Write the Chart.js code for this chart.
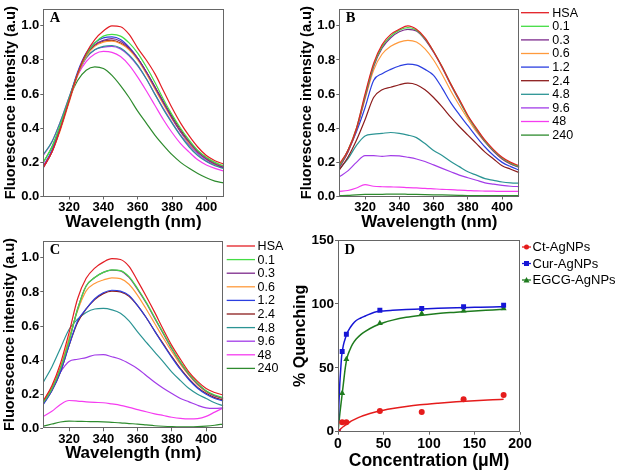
<!DOCTYPE html>
<html>
<head>
<meta charset="utf-8">
<script src="https://cdn.jsdelivr.net/npm/chart.js@4.4.0/dist/chart.umd.min.js"></script>
<style>
  body { margin: 0; background: #fff; width: 625px; height: 471px; overflow: hidden; }
  .panel { position: absolute; }
</style>
</head>
<body>
<div class="panel" style="left:0;top:0"><canvas id="chartA" width="232" height="233"></canvas></div>
<div class="panel" style="left:295px;top:0"><canvas id="chartB" width="330" height="233"></canvas></div>
<div class="panel" style="left:0;top:232px"><canvas id="chartC" width="300" height="239"></canvas></div>
<div class="panel" style="left:288px;top:230px"><canvas id="chartD" width="337" height="242"></canvas></div>
<script>
// wavelength axis shared by the three spectra panels
const wavelengths = [305, 310, 315, 320, 325, 330, 335, 340, 345, 350, 355, 360, 365, 370, 375, 380, 385, 390, 395, 400, 405, 410];
const concLabels = ["HSA", "0.1", "0.3", "0.6", "1.2", "2.4", "4.8", "9.6", "48", "240"];
const concColors = ["#e31e24", "#44dd44", "#7d2a8c", "#ff9a3c", "#2b3fe0", "#8c1c1c", "#2b9494", "#a23ce8", "#f53cf0", "#2e8b2e"];
const wlTicks = [320, 340, 360, 380, 400];
const fiTicks = [0, 0.2, 0.4, 0.6, 0.8, 1.0];

// panel A
const A_hsa = [0.17, 0.26, 0.40, 0.56, 0.72, 0.84, 0.92, 0.97, 1.0, 0.995, 0.95, 0.87, 0.80, 0.72, 0.62, 0.52, 0.43, 0.355, 0.29, 0.24, 0.21, 0.19];
const A_01 = [0.20, 0.29, 0.42, 0.57, 0.72, 0.83, 0.90, 0.94, 0.95, 0.94, 0.90, 0.84, 0.76, 0.67, 0.57, 0.48, 0.40, 0.33, 0.27, 0.23, 0.20, 0.18];
const A_03 = [0.17, 0.26, 0.40, 0.56, 0.72, 0.83, 0.89, 0.915, 0.925, 0.91, 0.87, 0.81, 0.73, 0.64, 0.55, 0.46, 0.38, 0.32, 0.26, 0.22, 0.19, 0.17];
const A_06 = [0.17, 0.26, 0.39, 0.55, 0.71, 0.82, 0.88, 0.905, 0.91, 0.895, 0.86, 0.80, 0.72, 0.63, 0.54, 0.455, 0.38, 0.31, 0.26, 0.22, 0.19, 0.175];
const A_12 = [0.17, 0.27, 0.41, 0.57, 0.73, 0.84, 0.90, 0.93, 0.935, 0.92, 0.875, 0.81, 0.73, 0.64, 0.55, 0.46, 0.38, 0.31, 0.26, 0.22, 0.19, 0.17];
const A_24 = [0.17, 0.26, 0.40, 0.56, 0.72, 0.83, 0.885, 0.91, 0.915, 0.90, 0.865, 0.81, 0.73, 0.645, 0.555, 0.47, 0.39, 0.32, 0.265, 0.225, 0.195, 0.175];
const A_48 = [0.245, 0.32, 0.44, 0.58, 0.72, 0.815, 0.86, 0.88, 0.885, 0.87, 0.83, 0.77, 0.69, 0.60, 0.51, 0.43, 0.355, 0.29, 0.24, 0.205, 0.18, 0.165];
const A_96 = [0.18, 0.27, 0.40, 0.56, 0.71, 0.81, 0.86, 0.875, 0.88, 0.865, 0.825, 0.765, 0.69, 0.60, 0.515, 0.435, 0.36, 0.30, 0.25, 0.21, 0.185, 0.17];
const A_480 = [0.24, 0.32, 0.44, 0.58, 0.71, 0.79, 0.835, 0.85, 0.845, 0.82, 0.77, 0.70, 0.62, 0.535, 0.45, 0.375, 0.31, 0.26, 0.215, 0.185, 0.165, 0.15];
const A_2400 = [0.20, 0.29, 0.42, 0.57, 0.68, 0.74, 0.76, 0.75, 0.71, 0.65, 0.58, 0.50, 0.43, 0.36, 0.30, 0.245, 0.20, 0.165, 0.135, 0.11, 0.09, 0.08];

// panel B
const B_hsa = [0.19, 0.27, 0.40, 0.60, 0.78, 0.89, 0.95, 0.98, 1.0, 0.98, 0.93, 0.85, 0.76, 0.66, 0.57, 0.475, 0.40, 0.33, 0.275, 0.23, 0.20, 0.18];
const B_01 = [0.18, 0.27, 0.40, 0.59, 0.77, 0.88, 0.94, 0.975, 0.99, 0.975, 0.925, 0.85, 0.76, 0.66, 0.565, 0.47, 0.395, 0.325, 0.27, 0.225, 0.195, 0.175];
const B_03 = [0.17, 0.26, 0.39, 0.58, 0.76, 0.87, 0.93, 0.965, 0.98, 0.97, 0.92, 0.845, 0.755, 0.655, 0.56, 0.47, 0.39, 0.32, 0.265, 0.22, 0.19, 0.17];
const B_06 = [0.17, 0.26, 0.39, 0.57, 0.74, 0.835, 0.88, 0.905, 0.915, 0.905, 0.865, 0.80, 0.715, 0.62, 0.535, 0.455, 0.38, 0.32, 0.265, 0.22, 0.19, 0.175];
const B_12 = [0.17, 0.27, 0.38, 0.52, 0.68, 0.72, 0.745, 0.765, 0.776, 0.77, 0.745, 0.71, 0.635, 0.55, 0.48, 0.415, 0.35, 0.29, 0.24, 0.20, 0.175, 0.155];
const B_24 = [0.155, 0.23, 0.33, 0.45, 0.58, 0.625, 0.64, 0.655, 0.664, 0.655, 0.625, 0.58, 0.525, 0.465, 0.41, 0.36, 0.31, 0.26, 0.22, 0.18, 0.16, 0.14];
const B_48 = [0.16, 0.22, 0.30, 0.355, 0.365, 0.37, 0.375, 0.37, 0.36, 0.345, 0.31, 0.27, 0.24, 0.205, 0.175, 0.145, 0.125, 0.105, 0.095, 0.085, 0.08, 0.078];
const B_96 = [0.115, 0.15, 0.20, 0.24, 0.24, 0.235, 0.24, 0.238, 0.23, 0.22, 0.205, 0.185, 0.165, 0.145, 0.125, 0.11, 0.095, 0.08, 0.072, 0.065, 0.06, 0.058];
const B_480 = [0.03, 0.035, 0.05, 0.07, 0.06, 0.057, 0.056, 0.055, 0.052, 0.05, 0.048, 0.045, 0.042, 0.04, 0.037, 0.035, 0.033, 0.032, 0.031, 0.03, 0.03, 0.03];
const B_2400 = [0.005, 0.007, 0.01, 0.012, 0.013, 0.013, 0.014, 0.014, 0.013, 0.012, 0.011, 0.01, 0.009, 0.008, 0.007, 0.006, 0.006, 0.005, 0.005, 0.005, 0.005, 0.005];

// panel C
const C_hsa = [0.16, 0.25, 0.38, 0.56, 0.76, 0.88, 0.94, 0.975, 0.995, 0.99, 0.95, 0.865, 0.775, 0.68, 0.58, 0.485, 0.405, 0.33, 0.275, 0.233, 0.21, 0.195];
const C_01 = [0.15, 0.23, 0.35, 0.51, 0.70, 0.835, 0.885, 0.915, 0.93, 0.925, 0.89, 0.82, 0.74, 0.65, 0.56, 0.47, 0.39, 0.32, 0.265, 0.22, 0.195, 0.18];
const C_03 = [0.15, 0.23, 0.35, 0.51, 0.70, 0.835, 0.885, 0.915, 0.928, 0.924, 0.885, 0.815, 0.735, 0.645, 0.555, 0.465, 0.385, 0.315, 0.26, 0.218, 0.19, 0.175];
const C_06 = [0.16, 0.24, 0.36, 0.53, 0.69, 0.806, 0.85, 0.87, 0.883, 0.878, 0.845, 0.78, 0.70, 0.615, 0.53, 0.45, 0.375, 0.31, 0.255, 0.215, 0.19, 0.175];
const C_12 = [0.14, 0.22, 0.33, 0.485, 0.63, 0.70, 0.76, 0.795, 0.81, 0.805, 0.78, 0.72, 0.65, 0.57, 0.49, 0.415, 0.345, 0.285, 0.235, 0.20, 0.175, 0.16];
const C_24 = [0.145, 0.22, 0.33, 0.485, 0.62, 0.70, 0.755, 0.79, 0.805, 0.80, 0.775, 0.72, 0.65, 0.57, 0.495, 0.42, 0.35, 0.29, 0.24, 0.205, 0.18, 0.165];
const C_48 = [0.27, 0.36, 0.47, 0.58, 0.64, 0.68, 0.70, 0.703, 0.695, 0.675, 0.63, 0.565, 0.505, 0.447, 0.39, 0.33, 0.28, 0.233, 0.20, 0.175, 0.15, 0.132];
const C_96 = [0.155, 0.24, 0.33, 0.392, 0.405, 0.415, 0.43, 0.432, 0.42, 0.405, 0.38, 0.35, 0.31, 0.27, 0.235, 0.204, 0.175, 0.155, 0.135, 0.12, 0.117, 0.12];
const C_480 = [0.07, 0.10, 0.14, 0.163, 0.16, 0.155, 0.152, 0.15, 0.143, 0.135, 0.123, 0.11, 0.097, 0.085, 0.075, 0.065, 0.058, 0.055, 0.057, 0.07, 0.095, 0.12];
const C_2400 = [0.013, 0.025, 0.037, 0.042, 0.041, 0.04, 0.039, 0.038, 0.035, 0.032, 0.028, 0.025, 0.02, 0.015, 0.012, 0.01, 0.009, 0.009, 0.01, 0.013, 0.018, 0.025];

// panel D: measured points and fitted curves
const concX = [0, 4.6, 9.2, 46, 92, 138, 182];
const ctPoints = [0, 7.4, 7.4, 16.2, 15.4, 25.4, 28.7];
const curPoints = [0, 62.7, 76.3, 95.1, 96.4, 97.7, 99];
const egcgPoints = [0, 30, 56.7, 84.9, 92.5, 94.6, 96.4];
const fitX = [0, 1, 2, 3, 4, 6, 8, 10, 13, 16, 20, 25, 30, 40, 50, 60, 75, 90, 110, 130, 150, 170, 182];
const ctFit = [0, 0.8, 1.5, 2.2, 2.9, 4.1, 5.2, 6.2, 7.6, 8.8, 10.2, 11.8, 13.1, 15.2, 16.8, 18.1, 19.7, 21, 22.3, 23.4, 24.3, 25, 25.4];
const curFit = [0, 22, 38, 49, 59, 68, 73, 77, 81, 84, 87, 89, 90.5, 93.5, 94.5, 95, 95.6, 96, 96.6, 97, 97.3, 97.6, 97.8];
const egcgFit = [0, 7, 14, 20, 26, 38, 50, 58, 64, 68.5, 72.5, 76, 78.5, 82.5, 85.3, 87.3, 89.5, 91, 92.5, 93.5, 94.5, 95.3, 95.8];
const dLabels = ["Ct-AgNPs", "Cur-AgNPs", "EGCG-AgNPs"];
const dColors = ["#e51c1c", "#1616d6", "#1e7b1e"];
const dStyles = ["circle", "rect", "triangle"];
const concTicks = [0, 50, 100, 150, 200];
const quenchTicks = [0, 50, 100, 150];

const SANS = '"Liberation Sans", Arial, sans-serif';

// box around the plot, panel letter and the side legend
const framePlugin = {
  id: 'frame',
  afterDraw(chart, args, o) {
    const { ctx, chartArea: a } = chart;
    ctx.save();
    ctx.strokeStyle = '#666';
    ctx.lineWidth = 1;
    const l = Math.round(a.left) + 0.5, t = Math.round(a.top) + 0.5;
    const r = Math.round(a.right) - 0.5, b = Math.round(a.bottom) - 0.5;
    ctx.strokeRect(l, t, r - l, b - t);

    ctx.fillStyle = '#000';
    ctx.font = 'bold 14.5px "Liberation Serif", serif';
    ctx.textBaseline = 'alphabetic';
    ctx.fillText(o.letter, a.left + 6.5, a.top + 13.5);

    const lg = o.legend;
    if (lg) {
      const items = chart.data.datasets.filter(d => d.label && d.inLegend);
      ctx.font = lg.font;
      ctx.textBaseline = 'middle';
      items.forEach((d, i) => {
        const y = lg.y + i * lg.step;
        ctx.strokeStyle = d.borderColor;
        ctx.fillStyle = d.borderColor;
        ctx.lineWidth = 1.3;
        ctx.beginPath();
        ctx.moveTo(lg.x, y);
        ctx.lineTo(lg.x + lg.len, y);
        ctx.stroke();
        if (d.pointStyle && lg.marker) {
          const cx = lg.x + lg.len / 2;
          ctx.beginPath();
          if (d.pointStyle === 'circle') ctx.arc(cx, y, 2.5, 0, Math.PI * 2);
          else if (d.pointStyle === 'rect') ctx.rect(cx - 2.5, y - 2.5, 5, 5);
          else { ctx.moveTo(cx, y - 3); ctx.lineTo(cx + 3, y + 2.5); ctx.lineTo(cx - 3, y + 2.5); ctx.closePath(); }
          ctx.fill();
        }
        ctx.fillStyle = '#000';
        ctx.fillText(d.label, lg.x + lg.len + lg.gap, y + 0.5);
      });
    }
    ctx.restore();
  }
};

function fixedTicks(values) {
  return scale => { scale.ticks = values.map(v => ({ value: v })); };
}

function axis(opts) {
  return {
    type: 'linear',
    min: opts.min,
    max: opts.max,
    afterBuildTicks: fixedTicks(opts.ticks),
    afterFit: opts.size[0] === 'w' ? (s => { s.width = opts.size[1]; }) : (s => { s.height = opts.size[1]; }),
    grid: { display: true, drawOnChartArea: false, drawTicks: true, tickLength: 3, color: '#666' },
    border: { display: false },
    ticks: {
      padding: opts.pad,
      color: '#000',
      font: { family: SANS, size: opts.tickSize, weight: 'bold' },
      callback: opts.fmt
    },
    title: {
      display: true,
      text: opts.title,
      color: '#000',
      padding: opts.titlePad,
      font: { family: SANS, size: opts.titleSize, weight: 'bold' }
    }
  };
}

function spectrumSets(series) {
  return series.map((arr, i) => ({
    label: concLabels[i],
    inLegend: true,
    data: wavelengths.map((w, k) => ({ x: w, y: arr[k] })),
    borderColor: concColors[i],
    borderWidth: 1.2,
    pointRadius: 0,
    tension: 0.4,
    cubicInterpolationMode: 'monotone',
    fill: false
  }));
}

function spectrumChart(id, letter, series, lay, legend) {
  return new Chart(document.getElementById(id), {
    type: 'line',
    data: { datasets: spectrumSets(series) },
    options: {
      responsive: false,
      animation: false,
      layout: { padding: lay.padding },
      plugins: { legend: { display: false }, tooltip: { enabled: false }, frame: { letter, legend } },
      scales: {
        x: axis({ min: 305, max: 410, ticks: wlTicks, size: ['h', lay.xh], pad: 0, tickSize: 13,
          fmt: v => v, title: 'Wavelength (nm)', titleSize: 17, titlePad: { top: 0, bottom: lay.xtp } }),
        y: axis({ min: 0, max: 1.1, ticks: fiTicks, size: ['w', lay.yw], pad: 1, tickSize: 13,
          fmt: v => v.toFixed(1), title: 'Fluorescence intensity (a.u)', titleSize: 14.6, titlePad: { top: lay.ytp, bottom: 0 } })
      }
    },
    plugins: [framePlugin]
  });
}

spectrumChart('chartA', 'A',
  [A_hsa, A_01, A_03, A_06, A_12, A_24, A_48, A_96, A_480, A_2400],
  { padding: { left: 0, top: 7.5, right: 8.5, bottom: 0 }, xh: 36.5, yw: 43.3, xtp: 0.5, ytp: 2 },
  null);

spectrumChart('chartB', 'B',
  [B_hsa, B_01, B_03, B_06, B_12, B_24, B_48, B_96, B_480, B_2400],
  { padding: { left: 0, top: 7.5, right: 105.7, bottom: 0 }, xh: 36.5, yw: 44.3, xtp: 0.5, ytp: 3 },
  { x: 226, y: 12.7, step: 13.6, len: 28, gap: 3.3, font: '12.5px ' + SANS });

spectrumChart('chartC', 'C',
  [C_hsa, C_01, C_03, C_06, C_12, C_24, C_48, C_96, C_480, C_2400],
  { padding: { left: 0, top: 7.5, right: 76.7, bottom: 0 }, xh: 42.7, yw: 43.3, xtp: 7.5, ytp: 1 },
  { x: 226.7, y: 14, step: 13.6, len: 28.3, gap: 2.6, font: '12.5px ' + SANS });

// panel D
const dPoints = [ctPoints, curPoints, egcgPoints];
const dFits = [ctFit, curFit, egcgFit];
const dSets = [];
dPoints.forEach((arr, i) => {
  dSets.push({
    type: 'scatter',
    label: dLabels[i],
    inLegend: true,
    data: concX.map((x, k) => ({ x, y: arr[k] })),
    borderColor: dColors[i],
    backgroundColor: dColors[i],
    pointStyle: dStyles[i],
    pointRadius: dStyles[i] === 'circle' ? 3 : 3.5,
    pointBorderWidth: 0,
    showLine: false
  });
});
dFits.forEach((arr, i) => {
  dSets.push({
    type: 'line',
    data: fitX.map((x, k) => ({ x, y: arr[k] })),
    borderColor: dColors[i],
    borderWidth: 1.5,
    pointRadius: 0,
    tension: 0.4,
    cubicInterpolationMode: 'monotone',
    fill: false
  });
});

new Chart(document.getElementById('chartD'), {
  type: 'scatter',
  data: { datasets: dSets },
  options: {
    responsive: false,
    animation: false,
    layout: { padding: { left: 0, top: 10, right: 105, bottom: 0 } },
    plugins: {
      legend: { display: false },
      tooltip: { enabled: false },
      frame: { letter: 'D', legend: { x: 234, y: 17, step: 16.5, len: 9, gap: 1.5, font: '13px ' + SANS, marker: true } }
    },
    scales: {
      x: axis({ min: 0, max: 200, ticks: concTicks, size: ['h', 40.3], pad: 1.2, tickSize: 14,
        fmt: v => v, title: 'Concentration (\u03bcM)', titleSize: 17.5, titlePad: { top: 0, bottom: 0 } }),
      y: axis({ min: 0, max: 150, ticks: quenchTicks, size: ['w', 50], pad: 1, tickSize: 13.5,
        fmt: v => v, title: '% Quenching', titleSize: 16, titlePad: { top: 3, bottom: 0 } })
    }
  },
  plugins: [framePlugin]
});
</script>
</body>
</html>
